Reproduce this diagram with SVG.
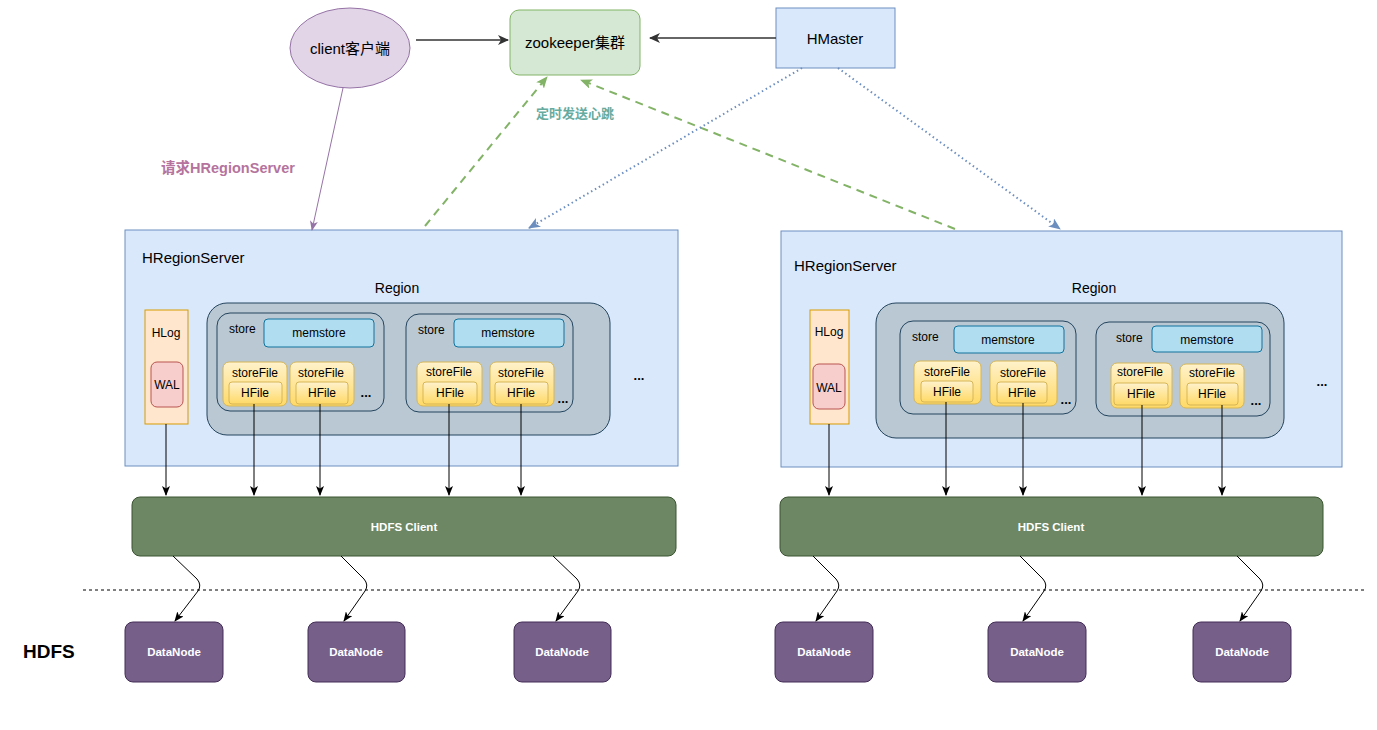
<svg xmlns="http://www.w3.org/2000/svg" width="1377" height="730" viewBox="0 0 1377 730">
<style>
text{font-family:"Liberation Sans",Arial,"Noto Sans CJK SC",sans-serif;fill:#000;dominant-baseline:central}
.c{text-anchor:middle}
.hrs{fill:#dae8fc;stroke:#6c8ebf;stroke-width:1}
.region{fill:#bac8d3;stroke:#23445d;stroke-width:1}
.store{fill:#bac8d3;stroke:#23445d;stroke-width:1}
.mem{fill:#b1ddf0;stroke:#10739e;stroke-width:1}
.sf{fill:url(#gy);stroke:#d6b656;stroke-width:1}
.hlog{fill:#ffe6cc;stroke:#d79b00;stroke-width:1}
.wal{fill:#f8cecc;stroke:#b85450;stroke-width:1}
.hdfs{fill:#6d8764;stroke:#3a5431;stroke-width:1}
.dn{fill:#76608a;stroke:#432d57;stroke-width:1}
.wt{fill:#fff;font-weight:bold;font-size:11.5px}
.s12{font-size:12px}
.dots{font-size:13px;font-weight:bold}
.v{fill:none;stroke:#000;stroke-width:1;marker-end:url(#ab)}
.cv{fill:none;stroke:#000;stroke-width:1;marker-end:url(#ab)}
</style>
<defs>
<linearGradient id="gy" x1="0" y1="0" x2="0" y2="1"><stop offset="0" stop-color="#fff2cc"/><stop offset="1" stop-color="#ffd966"/></linearGradient>
<marker id="ab" markerUnits="userSpaceOnUse" markerWidth="10" markerHeight="8" refX="9" refY="4" orient="auto"><path d="M0,0 L10,4 L0,8 L2.5,4z" fill="#000"/></marker>
<marker id="ag" markerUnits="userSpaceOnUse" markerWidth="11" markerHeight="10" refX="10" refY="5" orient="auto"><path d="M0,0 L11,5 L0,10 L3,5z" fill="#333"/></marker>
<marker id="ap" markerUnits="userSpaceOnUse" markerWidth="10" markerHeight="8" refX="9" refY="4" orient="auto"><path d="M0,0 L10,4 L0,8 L2.5,4z" fill="#9673a6"/></marker>
<marker id="agr" markerUnits="userSpaceOnUse" markerWidth="12" markerHeight="10" refX="11" refY="5" orient="auto"><path d="M0,0 L12,5 L0,10 L3,5z" fill="#82b366"/></marker>
<marker id="abl" markerUnits="userSpaceOnUse" markerWidth="12" markerHeight="10" refX="11" refY="5" orient="auto"><path d="M0,0 L12,5 L0,10 L3,5z" fill="#6c8ebf"/></marker>
</defs>

<g id="client"><ellipse cx="350" cy="48" rx="60" ry="40" fill="#e1d5e7" stroke="#9673a6"/><text class="c" x="350" y="48" style="font-size:15px">client客户端</text></g>
<g id="zookeeper"><rect x="510" y="10" width="130" height="65" rx="9" fill="#d5e8d4" stroke="#82b366"/><text class="c" x="575" y="42" style="font-size:15px">zookeeper集群</text></g>
<g id="hmaster"><rect x="776" y="8" width="119" height="60" fill="#dae8fc" stroke="#6c8ebf"/><text class="c" x="835" y="38" style="font-size:15px">HMaster</text></g>

<g id="label-heartbeat"><text class="c" x="575" y="113" style="font-size:13px;font-weight:bold;fill:#67ab9f">定时发送心跳</text></g>
<g id="label-request"><text class="c" x="228" y="168" style="font-size:14.5px;font-weight:bold;fill:#b5739d">请求HRegionServer</text></g>

<g id="hrs1">
<rect class="hrs" x="125" y="230" width="553" height="236"/>
<text x="142" y="257" style="font-size:15px">HRegionServer</text>
<text class="c" x="397" y="288" style="font-size:14px">Region</text>
<rect class="hlog" x="145" y="310" width="43" height="114"/>
<text class="c s12" x="166" y="333">HLog</text>
<rect class="wal" x="151" y="362" width="32" height="45" rx="6"/>
<text class="c s12" x="167" y="385">WAL</text>
<rect class="region" x="207" y="303" width="403" height="132" rx="20"/>
<rect class="store" x="217" y="313" width="167" height="98" rx="13"/>
<text class="s12" x="229" y="329">store</text>
<rect class="mem" x="264" y="319" width="110" height="28" rx="4"/>
<text class="c s12" x="319" y="333">memstore</text>
<rect class="sf" x="223" y="362" width="64" height="44" rx="6"/>
<text class="c s12" x="255" y="373">storeFile</text>
<rect class="sf" x="229" y="382" width="53" height="22" rx="3"/>
<text class="c s12" x="255" y="393">HFile</text>
<rect class="sf" x="290" y="362" width="64" height="44" rx="6"/>
<text class="c s12" x="321" y="373">storeFile</text>
<rect class="sf" x="296" y="382" width="52" height="22" rx="3"/>
<text class="c s12" x="322" y="393">HFile</text>
<text class="c dots" x="366" y="392">...</text>
<rect class="store" x="406" y="314" width="167" height="98" rx="13"/>
<text class="s12" x="418" y="330">store</text>
<rect class="mem" x="454" y="319" width="110" height="28" rx="4"/>
<text class="c s12" x="508" y="333">memstore</text>
<rect class="sf" x="417" y="362" width="65" height="44" rx="6"/>
<text class="c s12" x="449" y="372">storeFile</text>
<rect class="sf" x="423" y="382" width="54" height="22" rx="3"/>
<text class="c s12" x="450" y="393">HFile</text>
<rect class="sf" x="490" y="362" width="64" height="44" rx="6"/>
<text class="c s12" x="521" y="373">storeFile</text>
<rect class="sf" x="495" y="382" width="53" height="22" rx="3"/>
<text class="c s12" x="521" y="393">HFile</text>
<text class="c dots" x="563" y="398">...</text>
<text class="c dots" x="639" y="375">...</text>
</g>

<g id="hrs2">
<rect class="hrs" x="781" y="231" width="561" height="236"/>
<text x="794" y="265" style="font-size:15px">HRegionServer</text>
<text class="c" x="1094" y="288" style="font-size:14px">Region</text>
<rect class="hlog" x="810" y="310" width="39" height="114"/>
<text class="c s12" x="829" y="332">HLog</text>
<rect class="wal" x="813" y="364" width="32" height="45" rx="6"/>
<text class="c s12" x="829" y="388">WAL</text>
<rect class="region" x="876" y="303" width="408" height="135" rx="20"/>
<rect class="store" x="900" y="321" width="176" height="93" rx="13"/>
<text class="s12" x="912" y="337">store</text>
<rect class="mem" x="954" y="326" width="110" height="27" rx="4"/>
<text class="c s12" x="1008" y="340">memstore</text>
<rect class="sf" x="914" y="361" width="67" height="43" rx="6"/>
<text class="c s12" x="947" y="372">storeFile</text>
<rect class="sf" x="921" y="381" width="52" height="21" rx="3"/>
<text class="c s12" x="947" y="392">HFile</text>
<rect class="sf" x="990" y="361" width="67" height="45" rx="6"/>
<text class="c s12" x="1023" y="373">storeFile</text>
<rect class="sf" x="997" y="382" width="50" height="21" rx="3"/>
<text class="c s12" x="1022" y="393">HFile</text>
<text class="c dots" x="1066" y="399">...</text>
<rect class="store" x="1096" y="322" width="174" height="94" rx="13"/>
<text class="s12" x="1116" y="338">store</text>
<rect class="mem" x="1152" y="326" width="110" height="26" rx="4"/>
<text class="c s12" x="1207" y="340">memstore</text>
<rect class="sf" x="1111" y="363" width="61" height="45" rx="6"/>
<text class="c s12" x="1140" y="372">storeFile</text>
<rect class="sf" x="1114" y="383" width="54" height="22" rx="3"/>
<text class="c s12" x="1141" y="394">HFile</text>
<rect class="sf" x="1180" y="364" width="64" height="44" rx="6"/>
<text class="c s12" x="1212" y="373">storeFile</text>
<rect class="sf" x="1187" y="383" width="51" height="22" rx="3"/>
<text class="c s12" x="1212" y="394">HFile</text>
<text class="c dots" x="1256" y="400">...</text>
<text class="c dots" x="1322" y="381">...</text>
</g>

<g id="hdfsclient1"><rect class="hdfs" x="132" y="497" width="544" height="59" rx="8"/><text class="c wt" x="404" y="527">HDFS Client</text></g>
<g id="hdfsclient2"><rect class="hdfs" x="780" y="497" width="543" height="59" rx="8"/><text class="c wt" x="1051" y="527">HDFS Client</text></g>

<g id="datanode1"><rect class="dn" x="125" y="622" width="98" height="60" rx="8"/><text class="c wt" x="174" y="652">DataNode</text></g>
<g id="datanode2"><rect class="dn" x="308" y="622" width="97" height="60" rx="8"/><text class="c wt" x="356" y="652">DataNode</text></g>
<g id="datanode3"><rect class="dn" x="514" y="622" width="97" height="60" rx="8"/><text class="c wt" x="562" y="652">DataNode</text></g>
<g id="datanode4"><rect class="dn" x="775" y="622" width="98" height="60" rx="8"/><text class="c wt" x="824" y="652">DataNode</text></g>
<g id="datanode5"><rect class="dn" x="988" y="622" width="98" height="60" rx="8"/><text class="c wt" x="1037" y="652">DataNode</text></g>
<g id="datanode6"><rect class="dn" x="1193" y="622" width="98" height="60" rx="8"/><text class="c wt" x="1242" y="652">DataNode</text></g>

<g id="hdfs-label"><text x="23" y="651" style="font-size:19px;font-weight:bold">HDFS</text></g>

<g id="connectors">
<line x1="416" y1="40" x2="508" y2="40" stroke="#333" stroke-width="1.5" marker-end="url(#ag)"/>
<line x1="776" y1="38" x2="650" y2="38" stroke="#333" stroke-width="1.5" marker-end="url(#ag)"/>
<line x1="343" y1="88" x2="312" y2="230" stroke="#9673a6" stroke-width="1" marker-end="url(#ap)"/>
<line x1="425" y1="226" x2="547" y2="77" stroke="#82b366" stroke-width="2" stroke-dasharray="8 6" marker-end="url(#agr)"/>
<line x1="955" y1="229" x2="581" y2="80" stroke="#82b366" stroke-width="2" stroke-dasharray="8 6" marker-end="url(#agr)"/>
<line x1="802" y1="68" x2="529" y2="228" stroke="#6c8ebf" stroke-width="2" stroke-dasharray="1.5 3" marker-end="url(#abl)"/>
<line x1="838" y1="68" x2="1060" y2="229" stroke="#6c8ebf" stroke-width="2" stroke-dasharray="1.5 3" marker-end="url(#abl)"/>

<line class="v" x1="166" y1="424" x2="166" y2="495"/>
<line class="v" x1="254" y1="404" x2="254" y2="495"/>
<line class="v" x1="320" y1="404" x2="320" y2="495"/>
<line class="v" x1="449" y1="404" x2="449" y2="495"/>
<line class="v" x1="521" y1="404" x2="521" y2="495"/>
<line class="v" x1="829" y1="424" x2="829" y2="495"/>
<line class="v" x1="946" y1="402" x2="946" y2="495"/>
<line class="v" x1="1023" y1="403" x2="1023" y2="495"/>
<line class="v" x1="1142" y1="405" x2="1142" y2="495"/>
<line class="v" x1="1222" y1="405" x2="1222" y2="495"/>

<path class="cv" d="M173,556 L197,579 Q202,585 198,591 L175,621"/>
<path class="cv" d="M341,556 L364,579 Q369,585 365,591 L344,621"/>
<path class="cv" d="M553,556 L577,579 Q582,585 578,591 L556,621"/>
<path class="cv" d="M813,556 L836,579 Q841,585 837,591 L816,621"/>
<path class="cv" d="M1020,556 L1043,579 Q1048,585 1044,591 L1023,621"/>
<path class="cv" d="M1237,556 L1260,579 Q1265,585 1261,591 L1240,621"/>

<line x1="83" y1="590" x2="1365" y2="590" stroke="#000" stroke-width="1" stroke-dasharray="3 3"/>
</g>
</svg>
